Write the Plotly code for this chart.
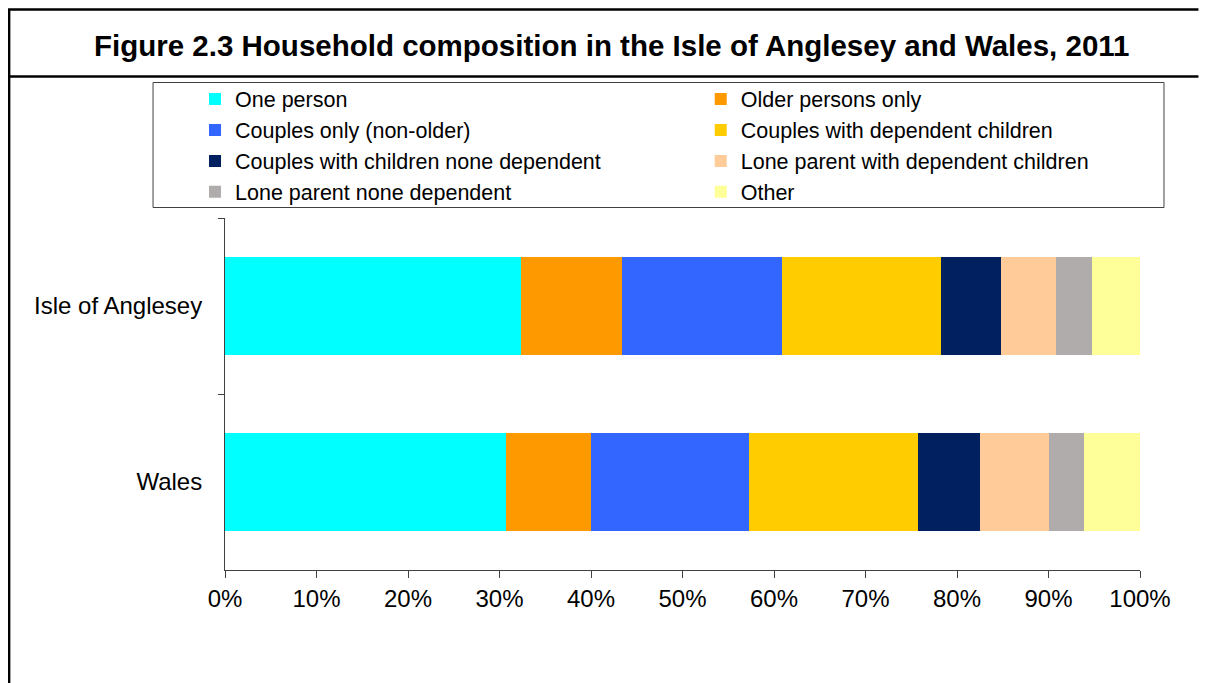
import plotly.graph_objects as go

areas = ["Isle of Anglesey", "Wales"]
categories = [
    "One person",
    "Older persons only",
    "Couples only (non-older)",
    "Couples with dependent children",
    "Couples with children none dependent",
    "Lone parent with dependent children",
    "Lone parent none dependent",
    "Other",
]
anglesey = [32.3, 11.1, 17.5, 17.3, 6.6, 6.0, 3.9, 5.3]
wales = [30.7, 9.3, 17.3, 18.4, 6.8, 7.6, 3.8, 6.1]
colors = ["#00FFFF", "#FF9900", "#3366FF", "#FFCC00", "#002060", "#FFCC99", "#B0ACAC", "#FFFF99"]

W, H = 1213, 683
OFF = 8  # page body margin
L, R, T, B = 225, 1140.5, 218, 570  # plot area in screen px


def px(x):
    return (x - L) / (R - L)


def py(y):
    return (B - y) / (B - T)


fig = go.Figure()
for i, (name, a, w, c) in enumerate(zip(categories, anglesey, wales, colors)):
    fig.add_trace(go.Bar(
        y=areas, x=[a / 100, w / 100], name=name, orientation="h",
        marker=dict(color=c, line=dict(width=0)),
        legend="legend" if i % 2 == 0 else "legend2",
        legendgroup=name,
    ))

font = "Liberation Sans, Arial, sans-serif"
legend_common = dict(
    orientation="v", font=dict(family=font, size=21.5, color="#000000"),
    bgcolor="rgba(0,0,0,0)", borderwidth=0, traceorder="grouped",
    tracegroupgap=0, xanchor="left", yanchor="top", itemclick=False,
    itemdoubleclick=False,
)

FW, FH = W - OFF, H - OFF

fig.update_layout(
    width=FW, height=FH,
    margin=dict(l=L - OFF, r=FW - (R - OFF), t=T - OFF, b=FH - (B - OFF), pad=0),
    paper_bgcolor="white", plot_bgcolor="white",
    barmode="stack", bargap=0.445,
    showlegend=True,
    legend=dict(x=px(195), y=py(78.5), **legend_common),
    legend2=dict(x=px(701), y=py(78.5), **legend_common),
    font=dict(family=font, size=22, color="#000000"),
    xaxis=dict(
        range=[0, 1], dtick=0.1, tick0=0, tickformat=".0%",
        showgrid=False, zeroline=False, showline=True, linecolor="#404040", linewidth=1,
        ticks="outside", ticklen=7, tickcolor="#404040", tickwidth=1,
        tickfont=dict(family=font, size=24, color="#000000"),
        fixedrange=True,
    ),
    yaxis=dict(
        type="category", autorange="reversed",
        showgrid=False, zeroline=False, showline=True, linecolor="#404040", linewidth=1,
        ticks="outside", ticklen=6, tickcolor="#404040", tickwidth=1, tickson="boundaries",
        tickfont=dict(family=font, size=24, color="#000000"),
        ticklabelstandoff=17,
        fixedrange=True,
    ),
    shapes=[
        # outer frame: left and top edges, and the rule under the title
        dict(type="path", xref="paper", yref="paper",
             path=f"M {px(9)},{py(H + 2)} L {px(9)},{py(9.5)} L {px(1199)},{py(9.5)}",
             line=dict(color="#000000", width=2.5)),
        dict(type="line", xref="paper", yref="paper", x0=px(8), x1=px(1199), y0=py(76.5), y1=py(76.5),
             line=dict(color="#000000", width=2.5)),
        dict(type="rect", xref="paper", yref="paper", x0=px(153), x1=px(1164.5), y0=py(207.5), y1=py(82.5),
             line=dict(color="#404040", width=1), fillcolor="rgba(0,0,0,0)"),
    ],
    annotations=[
        dict(text="<b>Figure 2.3 Household composition in the Isle of Anglesey and Wales, 2011</b>",
             xref="paper", yref="paper", x=px(612), y=py(45), xanchor="center", yanchor="middle",
             showarrow=False, font=dict(family=font, size=29.5, color="#000000")),
    ],
)

fig.write_html("out.html", config={"displayModeBar": False})
